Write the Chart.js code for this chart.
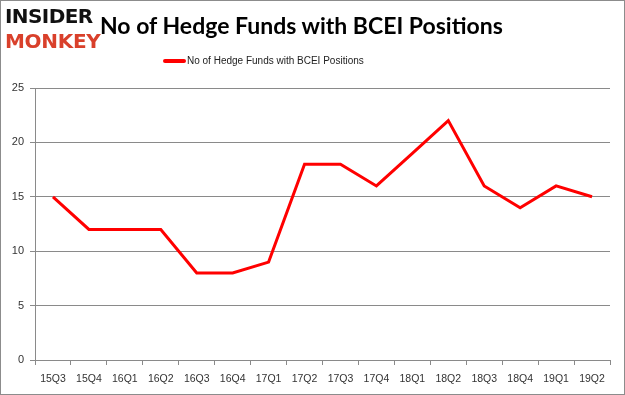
<!DOCTYPE html>
<html>
<head>
<meta charset="utf-8">
<script src="https://cdn.jsdelivr.net/npm/chart.js@4.4.0/dist/chart.umd.min.js"></script>
<style>
  html, body { margin: 0; padding: 0; background: #fff; }
  #wrap { position: relative; width: 625px; height: 395px; overflow: hidden; }
  #frame { position: absolute; left: 0; top: 0; width: 623px; height: 393px; border: 1px solid #8c8c8c; pointer-events: none; }
  #logo { position: absolute; left: 5px; top: 4px; font-family: "DejaVu Sans", sans-serif; font-weight: bold; line-height: 25px; }
  #logo .a { color: #111; font-size: 20px; letter-spacing: -0.6px; display: block; }
  #logo .b { color: #d9402b; font-size: 20px; letter-spacing: -0.3px; display: block; }
  #title { position: absolute; left: 100px; top: 11px; font-family: Lato, sans-serif; font-weight: bold; font-size: 23px; color: #000; white-space: nowrap; }
  #legend { position: absolute; left: 163px; top: 55px; font-family: "Liberation Sans", sans-serif; font-size: 10px; color: #222; white-space: nowrap; }
  #legend span.sw { display: inline-block; width: 23px; height: 4px; background: #ff0000; vertical-align: middle; margin-right: 1px; border-radius: 2px; }
  canvas { position: absolute; left: 0; top: 0; }
</style>
</head>
<body>
<div id="wrap">
  <canvas id="chart" width="625" height="395"></canvas>
  <div id="logo"><span class="a">INSIDER</span><span class="b">MONKEY</span></div>
  <div id="title">No of Hedge Funds with BCEI Positions</div>
  <div id="legend"><span class="sw"></span>No of Hedge Funds with BCEI Positions</div>
  <div id="frame"></div>
</div>
<script>
const quarters = ['15Q3', '15Q4', '16Q1', '16Q2', '16Q3', '16Q4', '17Q1', '17Q2',
                  '17Q3', '17Q4', '18Q1', '18Q2', '18Q3', '18Q4', '19Q1', '19Q2'];
const fundCounts = [15, 12, 12, 12, 8, 8, 9, 18, 18, 16, 19, 22, 16, 14, 16, 15];
const yTicks = [0, 5, 10, 15, 20, 25];

const gridGray = '#8a8a8a';
const labelColor = '#333';

new Chart(document.getElementById('chart'), {
  type: 'line',
  data: {
    labels: quarters,
    datasets: [{
      label: 'No of Hedge Funds with BCEI Positions',
      data: fundCounts,
      borderColor: '#ff0000',
      borderWidth: 3,
      pointRadius: 0,
      tension: 0,
      fill: false
    }]
  },
  options: {
    responsive: false,
    animation: false,
    layout: { padding: { top: 88, right: 15, bottom: 0, left: 0 } },
    plugins: { legend: { display: false }, title: { display: false }, tooltip: { enabled: false } },
    scales: {
      x: {
        offset: true,
        grid: { display: true, drawOnChartArea: false, offset: true, color: gridGray, tickLength: 5 },
        border: { color: gridGray },
        ticks: { color: labelColor, font: { family: 'Liberation Sans', size: 10.5 }, maxRotation: 0, autoSkip: false, padding: 8 },
        afterFit: s => { s.height = 35; }
      },
      y: {
        min: 0,
        max: 25,
        afterBuildTicks: s => { s.ticks = yTicks.map(v => ({ value: v })); },
        grid: { color: gridGray, tickLength: 5 },
        border: { color: gridGray },
        ticks: { color: labelColor, font: { family: 'Liberation Sans', size: 11 }, padding: 6 },
        afterFit: s => { s.width = 35; }
      }
    }
  }
});
</script>
</body>
</html>
